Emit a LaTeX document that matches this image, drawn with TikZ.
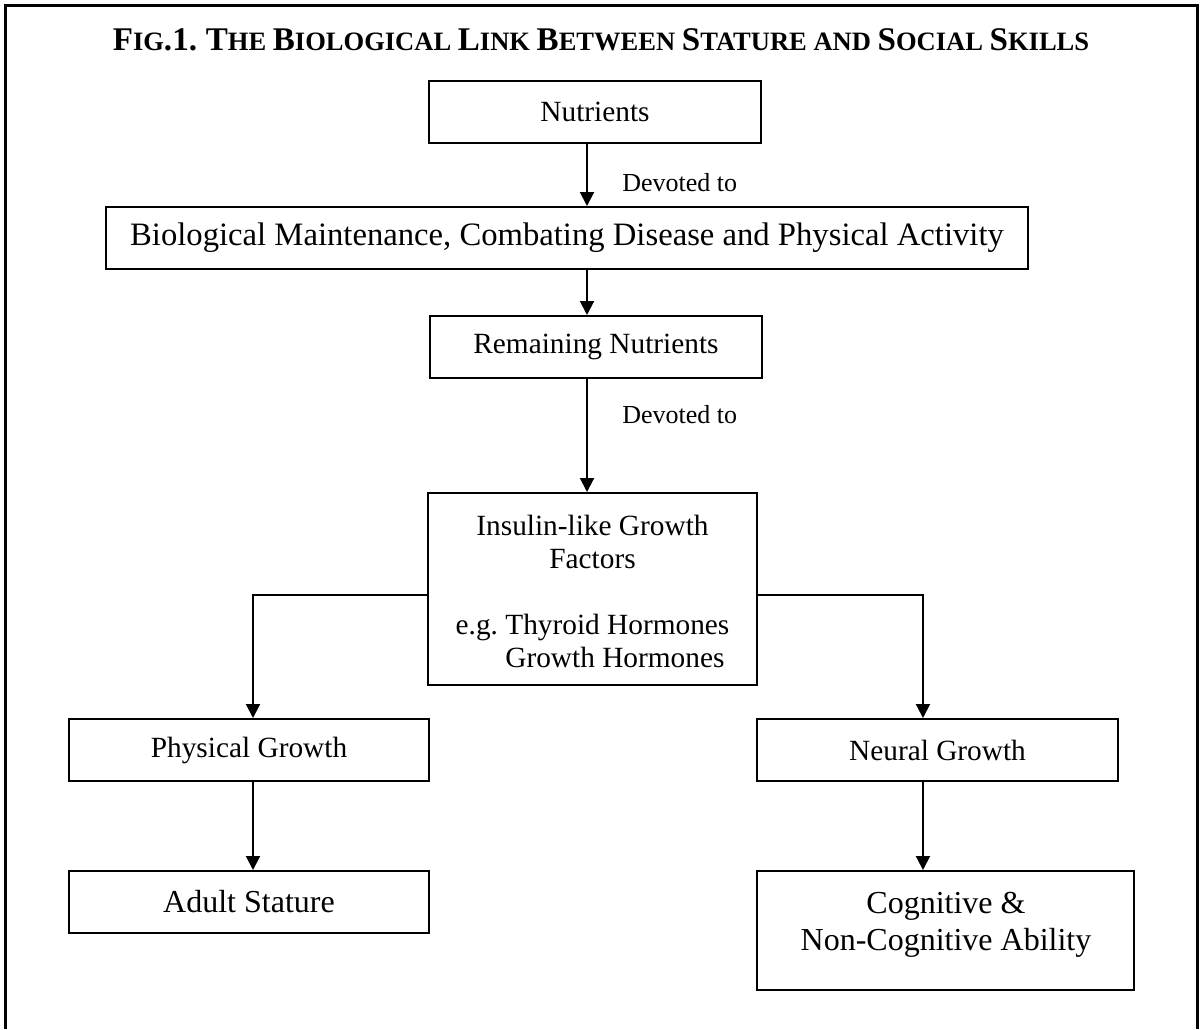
\documentclass[tikz,border=0pt]{standalone}
\usepackage{fontspec}
\setmainfont{Liberation Serif}
\usetikzlibrary{arrows.meta,calc}
\newcommand\tbig[1]{{\fontsize{24.8}{24.8}\selectfont #1}}
\begin{document}
\begin{tikzpicture}[x=0.75pt,y=-0.75pt,
  box/.style={draw,line width=1.5pt,inner sep=0pt,align=center,
    font=\fontsize{22}{24.75}\selectfont,minimum height=46.5pt},
  bigtext/.style={font=\fontsize{24}{27.6}\selectfont},
  arr/.style={line width=1.5pt,-{Triangle[width=10.5pt,length=10.5pt]}},
  lbl/.style={font=\fontsize{19.5}{22}\selectfont,inner sep=0pt,anchor=west}]
\useasboundingbox (0,0) rectangle (1201,1029);
\draw[line width=2.25pt] (5,1029) -- (5,5) -- (1197,5) -- (1197,1029);
\node[inner sep=0pt,font=\bfseries\fontsize{19.9}{19.9}\selectfont] (title) at (601,40)
  {\tbig{F}IG\tbig{.1.} \tbig{T}HE \tbig{B}IOLOGICAL \tbig{L}INK \tbig{B}ETWEEN \tbig{S}TATURE AND \tbig{S}OCIAL \tbig{S}KILLS};
\node[box,minimum width=249pt] (nut) at (595,112) {Nutrients};
\node[box,minimum width=691.5pt,font=\fontsize{24.5}{27}\selectfont] (bio) at (567,238) {Biological Maintenance, Combating Disease and Physical Activity};
\node[box,minimum width=249pt] (rem) at (596,347) {Remaining Nutrients};
\node[box,minimum width=246.75pt,minimum height=144pt] (ins) at (592.5,589)
  {\rule{0pt}{25.5pt}Insulin-like Growth\\Factors\\[24.75pt]\begin{tabular}[t]{@{}l@{}}e.g.\ Thyroid Hormones\\\hphantom{e.g.\ }Growth Hormones\end{tabular}};
\node[box,minimum width=270pt] (pg) at (249,750) {Physical Growth};
\node[box,minimum width=270.75pt] (neu) at (937.5,750) {Neural Growth};
\node[box,bigtext,minimum width=270pt] (as) at (249,902) {Adult Stature};
\node[box,minimum width=282.75pt,minimum height=89.25pt] (cog) at (945.5,930.5) {};
\node[inner sep=0pt,align=center,bigtext] (cogt) at (946,925) {Cognitive \&\\Non-Cognitive Ability};
\node[lbl] (d1) at (622,183) {Devoted to};
\node[lbl] (d2) at (622,415) {Devoted to};
% main column
\coordinate (a1) at ([xshift=-6pt]nut.south);
\draw[arr] (a1) -- (a1 |- bio.north);
\coordinate (a2) at ([xshift=-6pt]nut.south |- bio.south);
\draw[arr] (a2) -- (a2 |- rem.north);
\coordinate (a3) at ([xshift=-6pt]nut.south |- rem.south);
\draw[arr] (a3) -- (a3 |- ins.north);
% branches
\draw[arr] (ins.west |- 0,595) -| ([xshift=3pt]pg.north);
\draw[arr] (ins.east |- 0,595) -| ([xshift=-10.9pt]neu.north);
\coordinate (lb) at ([xshift=3pt]pg.south);
\draw[arr] (lb) -- (lb |- as.north);
\coordinate (rb) at ([xshift=-10.9pt]neu.south);
\draw[arr] (rb) -- (rb |- cog.north);
\end{tikzpicture}
\end{document}
